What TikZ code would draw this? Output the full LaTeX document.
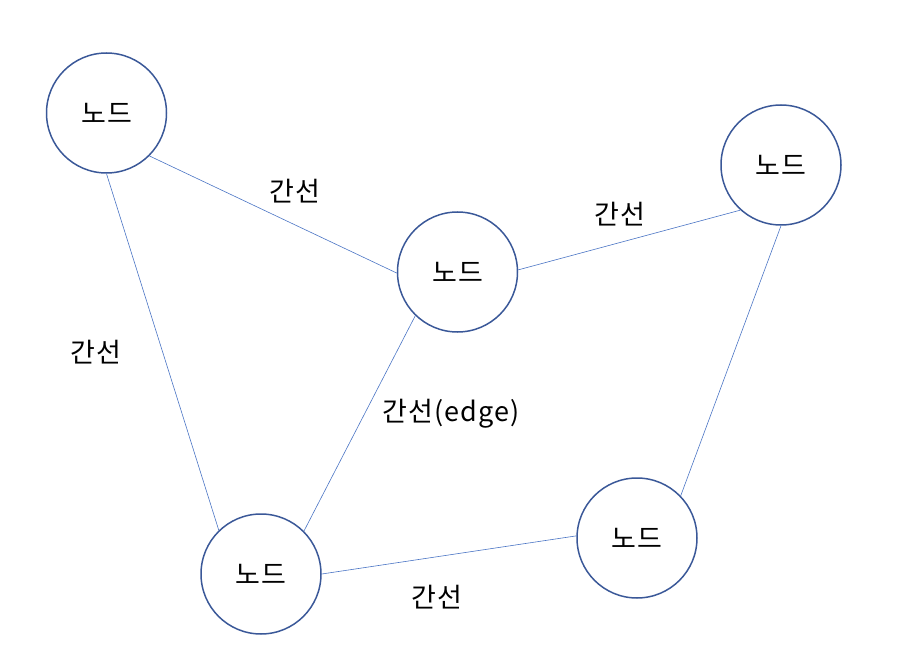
\documentclass[tikz,border=0pt]{standalone}
\usepackage{fontspec}
\setmainfont[LetterSpace=4]{Noto Sans CJK KR}
\definecolor{ringc}{HTML}{3A5898}
\definecolor{edgec}{HTML}{4A74C4}
\begin{document}
\begin{tikzpicture}[x=1pt,y=-1pt,
  nd/.style={circle,draw=ringc,line width=1.5pt,minimum size=120pt,inner sep=0pt,font=\fontsize{27}{31}\selectfont},
  ed/.style={draw=edgec,line width=0.6pt},
  lb/.style={font=\fontsize{27}{31}\selectfont,inner sep=0pt}]
\useasboundingbox (0,0) rectangle (906,650);
\node[nd] (A) at (106.5,113) {노드};
\node[nd] (B) at (457.5,272) {노드};
\node[nd] (C) at (781,165) {노드};
\node[nd] (D) at (261,574) {노드};
\node[nd] (E) at (637,538) {노드};
\draw[ed] (A.-45) -- (B.181);
\draw[ed] (B.2) -- (C.228);
\draw[ed] (A.270) -- (D.134);
\draw[ed] (B.226) -- (D.45);
\draw[ed] (C.270) -- (E.44);
\draw[ed] (D.0) -- (E.178);
\node[lb] (l1) at (295,191) {간선};
\node[lb] (l2) at (620,214) {간선};
\node[lb] (l3) at (96,352) {간선};
\node[lb] (l4) at (451,414) {간선(edge)};
\node[lb] (l5) at (437,597) {간선};
\end{tikzpicture}
\end{document}
